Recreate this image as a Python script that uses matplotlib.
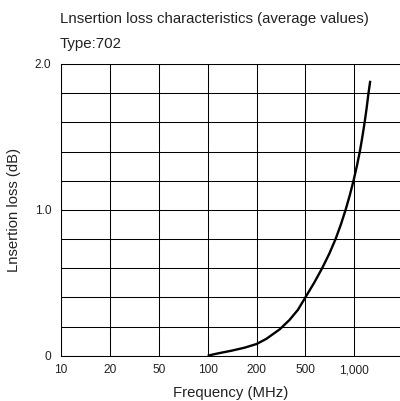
import numpy as np
from matplotlib import pyplot as plt

plt.rcParams['font.family'] = ['Liberation Sans', 'DejaVu Sans']

# Eje X: frecuencias marcadas (escala 1-2-5 equiespaciada)
freq_ticks = [10, 20, 50, 100, 200, 500, 1000]
freq_labels = ['10', '20', '50', '100', '200', '500', '1,000']
freq_scale = [10, 20, 50, 100, 200, 500, 1000, 2000, 5000]

# Curva (MHz, dB)
freq = [100, 116, 140, 169, 200, 240, 309, 371, 434, 500, 566, 634, 702, 767,
        827, 884, 938, 989, 1037, 1082, 1121, 1158, 1192, 1223, 1254]
loss = [0.0, 0.016, 0.034, 0.055, 0.080, 0.115, 0.181, 0.245, 0.314, 0.40, 0.5,
        0.6, 0.7, 0.8, 0.9, 1.0, 1.1, 1.2, 1.3, 1.4, 1.5, 1.6, 1.7, 1.8, 1.885]

y_ticks = [0, 1.0, 2.0]
y_labels = ['0', '1.0', '2.0']

log_scale = np.log10(freq_scale)
idx_scale = np.arange(len(freq_scale))

def forward(f):
    return np.interp(np.log10(np.asarray(f, dtype=float)), log_scale, idx_scale)

def inverse(p):
    return 10 ** np.interp(np.asarray(p, dtype=float), idx_scale, log_scale)

fig = plt.figure(figsize=(4.0, 4.01), dpi=100)
ax = fig.add_axes([0.1525, 0.113, 0.8475, 0.7274])
ax.set_xscale('function', functions=(forward, inverse))

ax.plot(freq, loss, color='black', lw=1.7, zorder=3,
        solid_joinstyle='round', solid_capstyle='butt')

ax.set_xlim(10, inverse(6.935))
ax.set_ylim(0, 2.0)

ax.set_xticks(freq_ticks)
ax.set_xticklabels(freq_labels)
ax.xaxis.set_minor_locator(plt.NullLocator())
ax.set_yticks(y_ticks)
ax.set_yticklabels(y_labels)
ax.set_yticks(np.arange(0, 2.01, 0.2), minor=True)

ax.tick_params(which='both', length=0, labelsize=8.6, colors='#222222')
ax.tick_params(axis='x', pad=6)
ax.tick_params(axis='y', pad=7)

ax.grid(which='major', axis='x', color='black', lw=0.75)
ax.grid(which='minor', axis='y', color='black', lw=0.75)
ax.grid(which='major', axis='y', color='black', lw=0.75)

for s in ['top', 'left', 'bottom']:
    ax.spines[s].set_linewidth(0.75)
ax.spines['right'].set_visible(False)

ax.set_xlabel('Frequency (MHz)', fontsize=10.7, labelpad=7, color='#222222')
ax.set_ylabel('Lnsertion loss (dB)', fontsize=10.7, labelpad=10, color='#222222')

fig.text(0.15, 1 - 19 / 401, 'Lnsertion loss characteristics (average values)',
         fontsize=10.8, va='center', ha='left', color='#222222')
fig.text(0.15, 1 - 44 / 401, 'Type:702', fontsize=10.8, va='center', ha='left', color='#222222')

fig.savefig('out.png', dpi=100)
